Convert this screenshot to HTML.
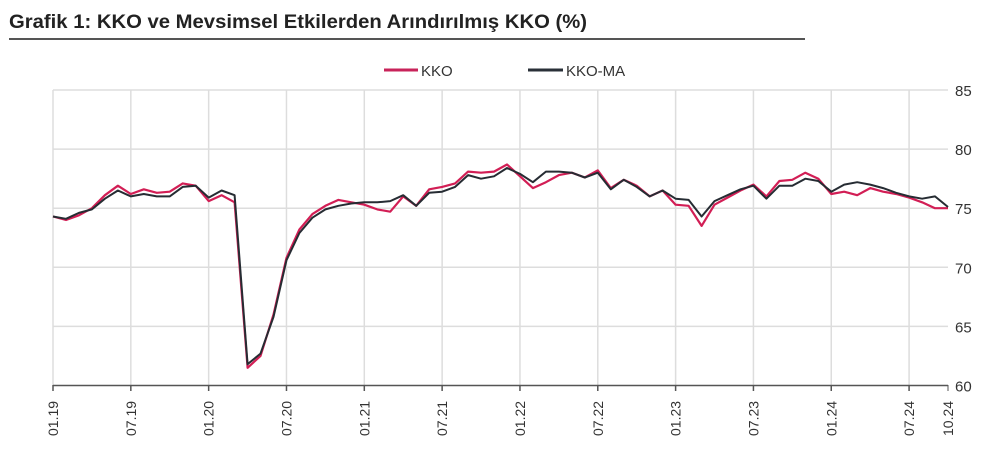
<!DOCTYPE html>
<html><head><meta charset="utf-8"><style>
body{margin:0;background:#fff;width:1003px;height:450px;overflow:hidden;font-family:"Liberation Sans",sans-serif}
</style></head><body>
<svg width="1003" height="450" xmlns="http://www.w3.org/2000/svg" font-family="Liberation Sans, sans-serif">
<text x="9" y="28" font-size="19" font-weight="bold" fill="#222" textLength="578" lengthAdjust="spacingAndGlyphs">Grafik 1: KKO ve Mevsimsel Etkilerden Arındırılmış KKO (%)</text>
<line x1="9" y1="39" x2="805" y2="39" stroke="#555" stroke-width="2"/>
<line x1="384" y1="70" x2="418" y2="70" stroke="#c8235a" stroke-width="3"/>
<text x="421" y="76" font-size="15" fill="#333">KKO</text>
<line x1="528" y1="70" x2="563" y2="70" stroke="#2a3038" stroke-width="3"/>
<text x="566" y="76" font-size="15" fill="#333">KKO-MA</text>
<g id="grid" stroke="#ddd" stroke-width="1.5"></g>
<line x1="53" y1="385.5" x2="948" y2="385.5" stroke="#555" stroke-width="1.5"/>
<g id="ticks"></g>
<polyline id="kko" fill="none" stroke="#d21e55" stroke-width="2.2" stroke-linejoin="round"/>
<polyline id="ma" fill="none" stroke="#262c33" stroke-width="2" stroke-linejoin="round"/>
</svg>
<script>
var NS="http://www.w3.org/2000/svg";
function X(i){return 53+i*(948-53)/69}
function Y(v){return 90+(85-v)*(385.5-90)/25}
var k=[74.3,74.0,74.4,75.0,76.1,76.9,76.2,76.6,76.3,76.4,77.1,76.9,
75.6,76.1,75.5,61.5,62.5,66.0,70.8,73.2,74.5,75.2,75.7,75.5,
75.3,74.9,74.7,76.0,75.2,76.6,76.8,77.1,78.1,78.0,78.1,78.7,
77.7,76.7,77.2,77.8,78.0,77.6,78.2,76.7,77.4,76.9,76.0,76.5,
75.3,75.2,73.5,75.3,75.9,76.5,77.0,76.0,77.3,77.4,78.0,77.5,
76.2,76.4,76.1,76.7,76.4,76.2,75.9,75.5,75.0,75.0];
var m=[74.3,74.1,74.6,74.9,75.8,76.5,76.0,76.2,76.0,76.0,76.8,76.9,
75.9,76.5,76.1,61.8,62.7,65.8,70.6,72.9,74.2,74.9,75.2,75.4,
75.5,75.5,75.6,76.1,75.2,76.3,76.4,76.8,77.8,77.5,77.7,78.4,
77.9,77.2,78.1,78.1,78.0,77.6,78.0,76.6,77.4,76.8,76.0,76.5,
75.8,75.7,74.3,75.6,76.1,76.6,76.9,75.8,76.9,76.9,77.5,77.3,
76.4,77.0,77.2,77.0,76.7,76.3,76.0,75.8,76.0,75.1];
function pts(a){return a.map(function(v,i){return X(i).toFixed(1)+","+Y(v).toFixed(1)}).join(" ")}
document.getElementById("kko").setAttribute("points",pts(k));
document.getElementById("ma").setAttribute("points",pts(m));
var g=document.getElementById("grid"),t=document.getElementById("ticks"),svg=document.querySelector("svg");
[85,80,75,70,65].forEach(function(v){var l=document.createElementNS(NS,"line");l.setAttribute("x1",53);l.setAttribute("x2",948);l.setAttribute("y1",Y(v));l.setAttribute("y2",Y(v));g.appendChild(l)});
[85,80,75,70,65,60].forEach(function(v){var s=document.createElementNS(NS,"text");s.setAttribute("x",955);s.setAttribute("y",Y(v)+6);s.setAttribute("font-size","15");s.setAttribute("fill","#333");s.textContent=v;svg.appendChild(s)});
var labs=["01.19","07.19","01.20","07.20","01.21","07.21","01.22","07.22","01.23","07.23","01.24","07.24"];
labs.forEach(function(s,j){var x=X(j*6);var l=document.createElementNS(NS,"line");l.setAttribute("x1",x);l.setAttribute("x2",x);l.setAttribute("y1",90);l.setAttribute("y2",385);g.appendChild(l);
var tk=document.createElementNS(NS,"line");tk.setAttribute("x1",x);tk.setAttribute("x2",x);tk.setAttribute("y1",385);tk.setAttribute("y2",391);tk.setAttribute("stroke","#555");tk.setAttribute("stroke-width","1.5");t.appendChild(tk);
var tx=document.createElementNS(NS,"text");tx.setAttribute("transform","translate("+(x+5)+",436) rotate(-90)");tx.setAttribute("font-size","14");tx.setAttribute("fill","#333");tx.textContent=s;svg.appendChild(tx)});
var x=X(69);var tk=document.createElementNS(NS,"line");tk.setAttribute("x1",x);tk.setAttribute("x2",x);tk.setAttribute("y1",385);tk.setAttribute("y2",391);tk.setAttribute("stroke","#555");t.appendChild(tk);
var tx=document.createElementNS(NS,"text");tx.setAttribute("transform","translate("+(x+5)+",436) rotate(-90)");tx.setAttribute("font-size","14");tx.setAttribute("fill","#333");tx.textContent="10.24";svg.appendChild(tx);
</script>
</body></html>
